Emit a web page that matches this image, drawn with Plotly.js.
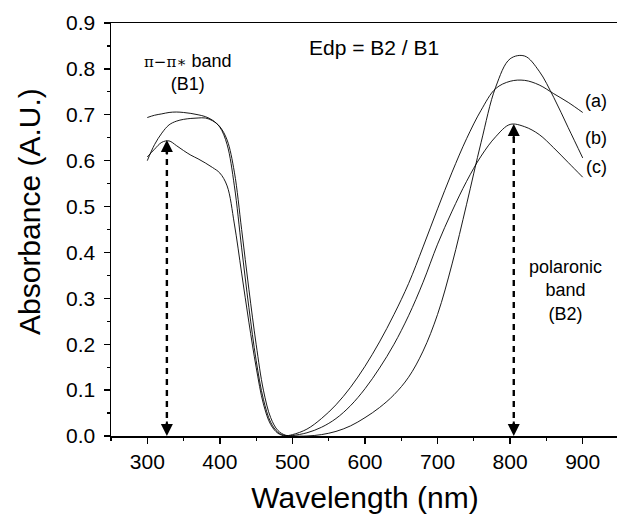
<!DOCTYPE html>
<html>
<head>
<meta charset="utf-8">
<script src="https://cdn.plot.ly/plotly-3.0.1.min.js"></script>
<style>
html,body{margin:0;padding:0;overflow:hidden;background:#fff;}
#chart{width:625px;height:517px;}
</style>
</head>
<body>
<div id="chart"></div>
<script>
// Wavelength grid (nm)
const wavelength = [300,310,320,330,340,350,360,370,380,390,400,410,420,430,440,450,460,470,480,490,500,
  520,540,560,580,600,620,640,660,680,700,720,740,760,780,800,820,840,860,880,900];

// Curve (a)
const absA = [0.694,0.699,0.702,0.705,0.706,0.705,0.703,0.700,0.696,0.688,0.673,0.635,0.545,0.410,0.280,0.165,0.080,0.030,0.008,0.001,0.003,
  0.015,0.038,0.068,0.106,0.152,0.205,0.265,0.332,0.412,0.495,0.575,0.648,0.710,0.757,0.773,0.775,0.765,0.746,0.727,0.705];

// Curve (b)
const absB = [0.600,0.635,0.660,0.678,0.686,0.690,0.692,0.693,0.693,0.687,0.674,0.645,0.575,0.450,0.320,0.200,0.100,0.040,0.012,0.002,0.000,
  0.000,0.003,0.010,0.022,0.040,0.062,0.090,0.128,0.185,0.265,0.375,0.505,0.640,0.760,0.822,0.828,0.795,0.738,0.672,0.606];

// Curve (c)
const absC = [0.608,0.625,0.640,0.643,0.633,0.622,0.612,0.604,0.595,0.585,0.573,0.545,0.462,0.355,0.248,0.150,0.070,0.025,0.006,0.000,0.001,
  0.007,0.019,0.038,0.066,0.103,0.148,0.200,0.262,0.335,0.418,0.490,0.555,0.610,0.652,0.679,0.674,0.657,0.628,0.596,0.564];

const curveLabels = ['(a)','(b)','(c)'];
const curveLabelY = [0.73,0.65,0.586];

// Band arrows: B1 (pi-pi*) and B2 (polaronic)
const bandWavelength = [327, 805];
const bandPeak = [0.645, 0.680];

const xTicks = [300,400,500,600,700,800,900];
const yTicks = [0.0,0.1,0.2,0.3,0.4,0.5,0.6,0.7,0.8,0.9];

const fontBase = 'Liberation Sans, Arial, sans-serif';
const lineStyle = {color:'#000', width:0.9, shape:'spline', smoothing:1};
const traces = [absA, absB, absC].map((ys,i)=>({
  x: wavelength, y: ys, type:'scatter', mode:'lines', line: lineStyle, name: curveLabels[i], hoverinfo:'none'
}));

bandWavelength.forEach((w,i)=>{
  traces.push({x:[w,w], y:[0.015, bandPeak[i]-0.02], type:'scatter', mode:'lines',
    line:{color:'#000', width:2.4, dash:'6px,5px'}, hoverinfo:'none'});
});

// pixel -> paper helpers (plot area: x 111..619, y 23..436)
function px(xp){ return (xp-111)/508; }
function py(yp){ return (436-yp)/413; }

const annotations = [];
bandWavelength.forEach((w,i)=>{
  annotations.push({x:w, y:bandPeak[i], xref:'x', yref:'y', ax:w, ay:bandPeak[i]-0.035, axref:'x', ayref:'y',
    showarrow:true, arrowhead:2, arrowsize:1.2, arrowwidth:2, arrowcolor:'#000', text:''});
  annotations.push({x:w, y:0, xref:'x', yref:'y', ax:w, ay:0.035, axref:'x', ayref:'y',
    showarrow:true, arrowhead:2, arrowsize:1.2, arrowwidth:2, arrowcolor:'#000', text:''});
});

curveLabels.forEach((t,i)=>{
  annotations.push({x:px(596), y:curveLabelY[i]/0.9, xref:'paper', yref:'paper', text:t, showarrow:false,
    font:{family:fontBase, size:18, color:'#000'}, xanchor:'center', yanchor:'middle'});
});

annotations.push({x:px(188), y:py(72), xref:'paper', yref:'paper', showarrow:false, xanchor:'center', yanchor:'middle',
  text:'<span style="font-family:DejaVu Serif, serif;font-size:15px">π−π∗</span> band<br>(B1)',
  font:{family:fontBase, size:18, color:'#000'}, align:'center'});
annotations.push({x:px(374), y:py(47), xref:'paper', yref:'paper', showarrow:false, xanchor:'center', yanchor:'middle',
  text:'Edp = B2 / B1', font:{family:fontBase, size:21, color:'#000'}});
annotations.push({x:px(565), y:py(290), xref:'paper', yref:'paper', showarrow:false, xanchor:'center', yanchor:'middle',
  text:'polaronic<br>band<br>(B2)', font:{family:fontBase, size:18, color:'#000'}, align:'center'});
// y-axis title (placed as in the reference, slightly above plot centre)
annotations.push({x:px(29), y:py(212), xref:'paper', yref:'paper', showarrow:false, xanchor:'center', yanchor:'middle',
  textangle:-90, text:'Absorbance (A.U.)', font:{family:fontBase, size:30, color:'#000'}});

const layout = {
  width:625, height:517,
  margin:{l:111, r:6, t:23, b:81},
  paper_bgcolor:'#fff', plot_bgcolor:'#fff',
  showlegend:false,
  font:{family:fontBase, color:'#000'},
  xaxis:{range:[250,950], tickvals:xTicks, ticktext:xTicks.map(String), ticks:'outside', ticklen:6, tickwidth:1.3,
    tickcolor:'#000', showline:true, linecolor:'#000', linewidth:1.5, mirror:true, showgrid:false, zeroline:false,
    tickfont:{size:21, family:fontBase}, automargin:false,
    minor:{dtick:50, tick0:250, ticks:'outside', ticklen:3, tickwidth:1.2, tickcolor:'#000', showgrid:false},
    title:{text:'Wavelength (nm)', font:{size:30, family:fontBase}, standoff:15}},
  yaxis:{range:[0,0.9], tickvals:yTicks, ticktext:yTicks.map(v=>v.toFixed(1)), ticks:'outside', ticklen:6, tickwidth:1.3,
    tickcolor:'#000', showline:true, linecolor:'#000', linewidth:1.5, mirror:true, showgrid:false, zeroline:false,
    tickfont:{size:21, family:fontBase}, automargin:false, ticklabelstandoff:4,
    minor:{dtick:0.05, tick0:0, ticks:'outside', ticklen:3, tickwidth:1.2, tickcolor:'#000', showgrid:false}},
  annotations: annotations
};

Plotly.newPlot('chart', traces, layout, {staticPlot:true, displayModeBar:false});
</script>
</body>
</html>
